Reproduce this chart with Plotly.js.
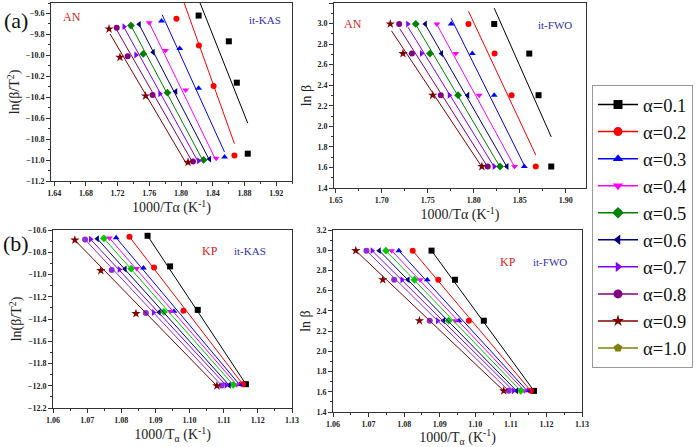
<!DOCTYPE html>
<html><head><meta charset="utf-8">
<script src="https://cdn.plot.ly/plotly-3.0.1.min.js"></script>
<style>html,body{margin:0;padding:0;background:#fff}#chart{width:700px;height:447px}</style>
</head><body><div id="chart"></div>
<script>
// ---------- data ----------
const alphaLabels = ['α=0.1','α=0.2','α=0.3','α=0.4','α=0.5','α=0.6','α=0.7','α=0.8','α=0.9','α=1.0'];
const lnBeta = [2.996, 2.708, 2.303, 1.609]; // heating rates 20, 15, 10, 5 K/min

// AN, it-KAS: 1000/T (per alpha 0.1..0.9, rows beta = 20,15,10,5)
const anKasX = [
  [1.8222,1.8603,1.8704,1.8842],
  [1.7942,1.8226,1.8411,1.8674],
  [1.7754,1.7984,1.8222,1.8549],
  [1.7599,1.7804,1.8059,1.8444],
  [1.7369,1.7523,1.7829,1.8285],
  [1.7473,1.7649,1.7934,1.8360],
  [1.7281,1.7431,1.7733,1.8222],
  [1.7189,1.7327,1.7641,1.8151],
  [1.7092,1.7230,1.7553,1.8088]
];
const anKasY = [
  [-9.620,-9.866,-10.261,-10.939],
  [-9.651,-9.907,-10.292,-10.957],
  [-9.672,-9.934,-10.313,-10.970],
  [-9.689,-9.954,-10.331,-10.982],
  [-9.716,-9.986,-10.356,-10.999],
  [-9.704,-9.971,-10.345,-10.991],
  [-9.726,-9.996,-10.367,-11.006],
  [-9.736,-10.008,-10.378,-11.014],
  [-9.748,-10.019,-10.388,-11.021]
];
const anKasFitX = [
  [1.8225,1.8842],[1.8040,1.8674],[1.7762,1.8549],[1.7607,1.8436],[1.7369,1.8285],
  [1.7473,1.8360],[1.7281,1.8222],[1.7189,1.8151],[1.7105,1.8068]
];
const anKasFitY = [
  [-9.47,-10.648],[-9.50,-10.844],[-9.612,-10.924],[-9.701,-10.996],[-9.716,-11.018],
  [-9.707,-11.002],[-9.732,-11.025],[-9.757,-11.028],[-9.795,-11.035]
];

// AN, it-FWO: 1000/T
const anFwoX = [
  [1.8222,1.8603,1.8704,1.8842],
  [1.7942,1.8226,1.8411,1.8674],
  [1.7754,1.7984,1.8222,1.8549],
  [1.7599,1.7804,1.8059,1.8444],
  [1.7473,1.7649,1.7934,1.8360],
  [1.7369,1.7523,1.7829,1.8285],
  [1.7281,1.7431,1.7733,1.8222],
  [1.7189,1.7327,1.7641,1.8151],
  [1.7092,1.7230,1.7553,1.8088]
];
const anFwoFitX = [
  [1.8222,1.8842],[1.7942,1.8674],[1.7754,1.8549],[1.7599,1.8444],[1.7473,1.8360],
  [1.7369,1.8285],[1.7285,1.8222],[1.7195,1.8151],[1.7105,1.8088]
];
const anFwoFitY = [
  [3.15,1.897],[3.12,1.72],[3.05,1.62],[2.99,1.605],[2.99,1.605],
  [2.99,1.605],[2.965,1.605],[2.95,1.605],[2.93,1.605]
];

// KP: 1000/T
const kpX = [
  [1.0877,1.0943,1.1024,1.1165],
  [1.0824,1.0896,1.0982,1.1156],
  [1.0785,1.0865,1.0954,1.1146],
  [1.0765,1.0845,1.0943,1.1138],
  [1.0749,1.0829,1.0925,1.1128],
  [1.0730,1.0811,1.0911,1.1116],
  [1.0710,1.0794,1.0894,1.1107],
  [1.0694,1.0772,1.0872,1.1094],
  [1.0664,1.0740,1.0843,1.1080]
];
const kpKasY = [
  [-10.652,-10.927,-11.318,-11.986],
  [-10.661,-10.936,-11.326,-11.987],
  [-10.669,-10.941,-11.331,-11.989],
  [-10.672,-10.945,-11.333,-11.991],
  [-10.675,-10.948,-11.336,-11.992],
  [-10.679,-10.951,-11.339,-11.995],
  [-10.683,-10.955,-11.342,-11.996],
  [-10.686,-10.959,-11.346,-11.998],
  [-10.691,-10.965,-11.351,-12.001]
];

// ---------- styles ----------
const colors = ['#000000','#ff0000','#0000ff','#ff00ff','#008000','#000080','#8000ff','#800080','#800000','#808000'];
const kpColors = ['#000000','#ff0000','#0000ff','#ff00ff','#00c800','#000080','#8000ff','#8a2be2','#800000'];
const symbols = ['square','circle','triangle-up','triangle-down','diamond','triangle-left','triangle-right','circle','star','pentagon'];
const fwoSeriesOrder = [0,1,2,3,5,4,6,7,8]; // FWO panel: position index -> alpha index

const traces = [];
function addSeries(xa, ya, xs, ys, fx, fy, ai, col) {
  traces.push({x: fx, y: fy, xaxis: xa, yaxis: ya, mode: 'lines', showlegend: false,
    line: {color: col, width: 1}, hoverinfo: 'skip'});
  traces.push({x: xs, y: ys, xaxis: xa, yaxis: ya, mode: 'markers', showlegend: false,
    marker: {symbol: symbols[ai], color: col, size: ai === 8 ? 7 : 6}});
}
for (let i = 0; i < 9; i++) addSeries('x','y', anKasX[i], anKasY[i], anKasFitX[i], anKasFitY[i], i, colors[i]);
for (let p = 0; p < 9; p++) {
  const a = fwoSeriesOrder[p];
  addSeries('x2','y2', anFwoX[p], lnBeta, anFwoFitX[p], anFwoFitY[p], a, colors[a]);
}
for (let i = 0; i < 9; i++) {
  addSeries('x3','y3', kpX[i], kpKasY[i], [kpX[i][0], kpX[i][3]], [kpKasY[i][0], kpKasY[i][3]], i, kpColors[i]);
  addSeries('x4','y4', kpX[i], lnBeta, [kpX[i][0], kpX[i][3]], [lnBeta[0], lnBeta[3]], i, kpColors[i]);
}
// legend-only entries (no visible point)
for (let i = 0; i < 10; i++) {
  traces.push({x: [null], y: [null], xaxis: 'x', yaxis: 'y', mode: 'lines+markers', name: alphaLabels[i],
    showlegend: true, line: {color: colors[i], width: 1.5},
    marker: {symbol: symbols[i], color: colors[i], size: 9}});
}

const serif = 'Liberation Serif, Times New Roman, serif';
const tickFont = {family: serif, size: 8, color: '#222', weight: 'bold'};
function ax(dom, range, dtick, minor, anchor, title, fmt) {
  return {domain: dom, range: range, dtick: dtick, tick0: 0, anchor: anchor, tickformat: fmt,
    showline: true, linecolor: '#333', linewidth: 1, mirror: true,
    showgrid: false, zeroline: false, ticks: 'outside', ticklen: 4, tickwidth: 1, tickcolor: '#333',
    minor: {dtick: minor, ticks: 'outside', ticklen: 2, tickcolor: '#333', showgrid: false},
    tickfont: tickFont, automargin: false, fixedrange: true,
    title: {text: title, font: {family: serif, size: 14, color: '#222'}, standoff: 2}};
}
const P = (x) => x / 700, Q = (y) => 1 - y / 447;
const xT1 = '1000/Tα (K<sup>-1</sup>)';
const xT2 = '1000/T<sub>α</sub> (K<sup>-1</sup>)';

const layout = {
  width: 700, height: 447, margin: {l: 0, r: 0, t: 0, b: 0},
  paper_bgcolor: '#fff', plot_bgcolor: '#fff', showlegend: true,
  xaxis:  ax([P(51), P(292)], [1.636, 1.940], 0.04, 0.02, 'y', xT1, '.2f'),
  yaxis:  ax([Q(181), Q(3)], [-11.2, -9.5], 0.2, 0.1, 'x', 'ln(β/T<sup>2</sup>)', '.1f'),
  xaxis2: ax([P(334), P(586)], [1.648, 1.922], 0.05, 0.025, 'y2', xT1, '.2f'),
  yaxis2: ax([Q(188), Q(3)], [1.4, 3.2], 0.2, 0.1, 'x2', 'ln β', '.1f'),
  xaxis3: ax([P(53), P(292)], [1.06, 1.13], 0.01, 0.005, 'y3', xT2, '.2f'),
  yaxis3: ax([Q(408), Q(230)], [-12.2, -10.6], 0.2, 0.1, 'x3', 'ln(β/T<sup>2</sup>)', '.1f'),
  xaxis4: ax([P(333), P(582)], [1.06, 1.13], 0.01, 0.005, 'y4', xT2, '.2f'),
  yaxis4: ax([Q(412), Q(230)], [1.4, 3.2], 0.2, 0.1, 'x4', 'ln β', '.1f'),
  legend: {x: P(592), y: Q(85), xanchor: 'left', yanchor: 'top', bgcolor: '#fff',
    bordercolor: '#999', borderwidth: 1, font: {family: serif, size: 18.5, color: '#111'},
    tracegroupgap: 0, itemwidth: 40},
  annotations: [
    {text: '(a)', x: P(16), y: Q(20), font: {family: serif, size: 22, color: '#111'}},
    {text: '(b)', x: P(16), y: Q(243), font: {family: serif, size: 22, color: '#111'}},
    {text: 'AN', x: P(72), y: Q(17), font: {family: serif, size: 12, color: '#e02020'}},
    {text: 'it-KAS', x: P(265), y: Q(20), font: {family: serif, size: 11, color: '#3030b0'}},
    {text: 'AN', x: P(353), y: Q(24), font: {family: serif, size: 12, color: '#e02020'}},
    {text: 'it-FWO', x: P(555), y: Q(25), font: {family: serif, size: 11, color: '#3030b0'}},
    {text: 'KP', x: P(210), y: Q(251), font: {family: serif, size: 12, color: '#e02020'}},
    {text: 'it-KAS', x: P(250), y: Q(251), font: {family: serif, size: 11, color: '#3030b0'}},
    {text: 'KP', x: P(508), y: Q(262), font: {family: serif, size: 12, color: '#e02020'}},
    {text: 'it-FWO', x: P(550), y: Q(262), font: {family: serif, size: 11, color: '#3030b0'}}
  ].map(a => Object.assign({xref: 'paper', yref: 'paper', showarrow: false, xanchor: 'center', yanchor: 'middle'}, a))
};

Plotly.newPlot('chart', traces, layout, {displayModeBar: false, staticPlot: true});
</script></body></html>
